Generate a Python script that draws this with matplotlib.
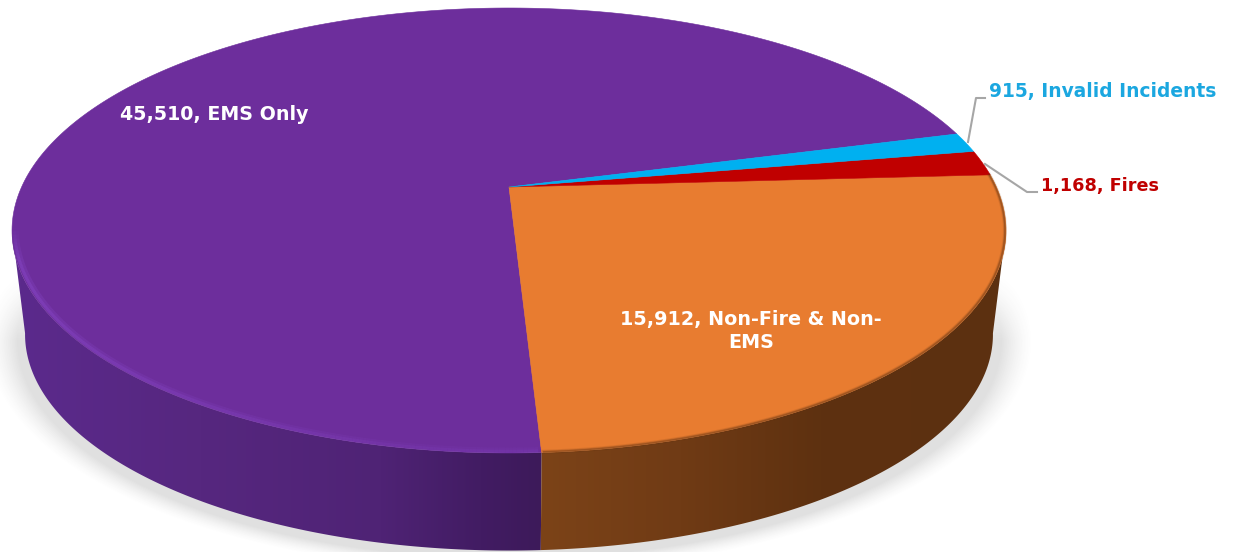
import numpy as np
import matplotlib
matplotlib.use("Agg")
import matplotlib.pyplot as plt
from matplotlib.collections import LineCollection
from matplotlib.colors import to_rgb
from matplotlib.patches import Polygon

# Werte aus dem Bild
names = ["EMS Only", "Non-Fire & Non-EMS", "Fires", "Invalid Incidents"]
values = [45510, 15912, 1168, 915]
colors = ["#6D2E9C", "#E87C30", "#C00000", "#00B0F0"]
start_angle = 15.1

W, H = 1235, 552
K = 0.1955  # Perspektive


def top_xy(theta, r=1.0):
    t = np.radians(theta)
    u, v = r * np.cos(t), r * np.sin(t)
    return 509 + 487.4 * u / (1 + K * v), 187 - 214 * v / (1 + K * v)


def base_xy(theta):
    t = np.radians(theta)
    u, v = np.cos(t), np.sin(t)
    return 509 + 474.6 * u / (1 + K * v), 292 - 208 * v / (1 + K * v)


def gradient(stops):
    # Farbverlauf ueber x, eine Zeile breit
    xs = [s[0] for s in stops]
    rgb = np.array([to_rgb(s[1]) for s in stops])
    px = np.arange(W)
    return np.dstack([np.interp(px, xs, rgb[:, i]) for i in range(3)])


fig = plt.figure(figsize=(W / 100, H / 100), dpi=100)
ax = fig.add_axes([0, 0, 1, 1])
ax.set_xlim(0, W)
ax.set_ylim(H, 0)
ax.axis("off")

# weicher Schatten unter der Torte
yy, xx = np.mgrid[0:H, 0:W]
d = np.sqrt(((xx - 509) / 497) ** 2 + ((yy - 340) / 220) ** 2)
alpha = np.clip((1.055 - d) / 0.065, 0, 1) ** 1.5 * 0.17
alpha = alpha * np.clip((yy - 270) / 70, 0, 1)
shadow = np.zeros((H, W, 4))
shadow[..., :3] = 0.3
shadow[..., 3] = alpha
ax.imshow(shadow, extent=(0, W, H, 0), aspect="auto", zorder=1)

# Winkel der Stuecke
spans = np.array(values) / sum(values) * 360
edges = start_angle + np.concatenate([[0], np.cumsum(spans)])

purple_stops = [(20, "#5B2A8C"), (200, "#56277F"), (380, "#4F2375"), (480, "#421C63"), (541, "#3D1A5A")]
orange_stops = [(541, "#7C4318"), (680, "#703B15"), (820, "#5E3110"), (1000, "#5C3010")]

# Seitenwand: Verlauf, auf die Wandflaeche zugeschnitten
walls = [(191, edges[1], purple_stops), (edges[1], 349, orange_stops)]
for a, b, stops in walls:
    th = np.linspace(a, b, 300)
    xt, yt = top_xy(th)
    xb, yb = base_xy(th)
    poly = Polygon(np.c_[np.r_[xt, xb[::-1]], np.r_[yt, yb[::-1]]], closed=True, transform=ax.transData)
    im = ax.imshow(gradient(stops), extent=(0, W, H, 0), aspect="auto", zorder=2)
    im.set_clip_path(poly)
ax.set_xlim(0, W)
ax.set_ylim(H, 0)

# Oberseite
for i in range(len(values)):
    th = np.linspace(edges[i], edges[i + 1], 300)
    x, y = top_xy(th)
    ax.fill(np.r_[509, x], np.r_[187, y], color=colors[i], lw=0.4, zorder=3)

# heller Rand vorn links (lila), nach rechts schwaecher
th = np.linspace(190, edges[1] - 0.3, 240)
for r, lw, strength in [(0.992, 4.0, 0.3), (0.995, 2.4, 0.45)]:
    x, y = top_xy(th, r)
    segs = [[(x[j], y[j]), (x[j + 1], y[j + 1])] for j in range(len(x) - 1)]
    s = np.linspace(0, 1, len(segs))
    fade = np.minimum(s * 10, 1) * np.clip(1.2 - s, 0.35, 1)
    rim = [(0.53, 0.28, 0.78, f * strength) for f in fade]
    ax.add_collection(LineCollection(segs, colors=rim, linewidths=lw, capstyle="butt", zorder=4))

# dunkler Rand am orangen Stueck
th = np.linspace(edges[1] + 0.2, edges[2], 200)
x, y = top_xy(th, 0.998)
for lw, al in [(3, 0.12), (1.8, 0.2), (1.0, 0.3)]:
    ax.plot(x, y, color="#5C3010", lw=lw, alpha=al, zorder=4)

# Linien zu den Beschriftungen
ax.plot([968, 976, 985], [142, 98, 98], color="#A6A6A6", lw=1.5, zorder=5)
ax.plot([985, 1027, 1037], [164, 192, 192], color="#A6A6A6", lw=1.5, zorder=5)

font = dict(family="DejaVu Sans", weight="bold", va="center", zorder=6)
ax.text(120, 115, f"{values[0]:,}, {names[0]}", color="white", ha="left", fontsize=13.7, **font)
ax.text(751, 331, f"{values[1]:,}, Non-Fire & Non-\nEMS", color="white", ha="center", linespacing=1.25, fontsize=13.8, **font)
ax.text(1041, 186, f"{values[2]:,}, {names[2]}", color="#C00000", ha="left", fontsize=12.7, **font)
ax.text(989, 91, f"{values[3]:,}, {names[3]}", color="#1BA7E0", ha="left", fontsize=13.4, **font)

fig.savefig("out.png", dpi=100)
